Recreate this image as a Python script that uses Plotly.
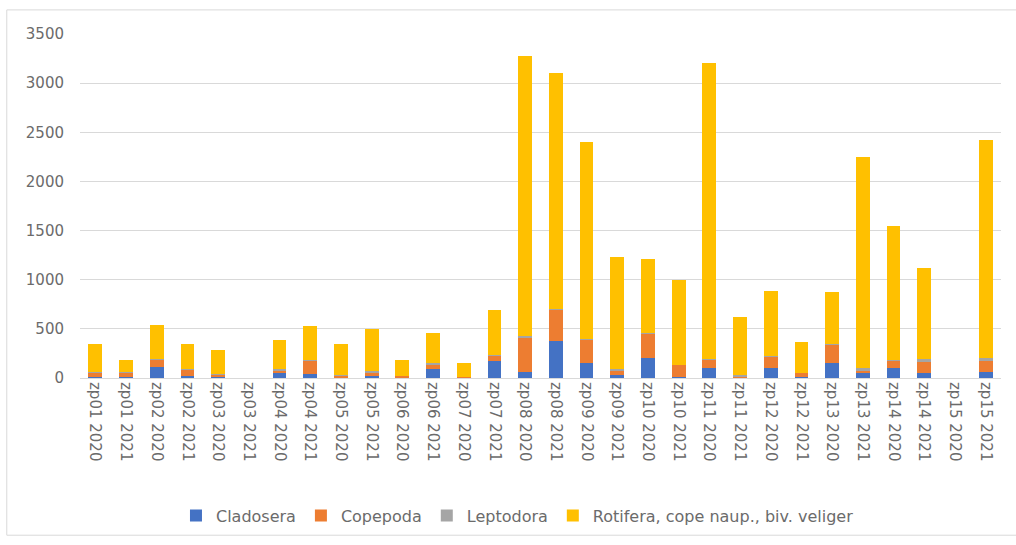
import plotly.graph_objects as go

categories = [
    "zp01 2020", "zp01 2021", "zp02 2020", "zp02 2021", "zp03 2020", "zp03 2021",
    "zp04 2020", "zp04 2021", "zp05 2020", "zp05 2021", "zp06 2020", "zp06 2021",
    "zp07 2020", "zp07 2021", "zp08 2020", "zp08 2021", "zp09 2020", "zp09 2021",
    "zp10 2020", "zp10 2021", "zp11 2020", "zp11 2021", "zp12 2020", "zp12 2021",
    "zp13 2020", "zp13 2021", "zp14 2020", "zp14 2021", "zp15 2020", "zp15 2021",
]

cladocera = [15, 10, 110, 20, 10, 0, 50, 40, 10, 20, 5, 90,
             5, 170, 60, 380, 150, 30, 200, 10, 100, 10, 100, 10,
             150, 50, 100, 50, 0, 60]
copepoda = [45, 50, 80, 70, 30, 0, 30, 140, 20, 40, 20, 50,
            10, 60, 350, 320, 240, 50, 250, 120, 90, 10, 120, 40,
            190, 30, 80, 120, 0, 120]
leptodora = [5, 5, 5, 5, 5, 0, 10, 5, 5, 10, 0, 10,
             0, 5, 20, 5, 5, 10, 5, 0, 5, 10, 5, 0,
             5, 20, 5, 20, 0, 20]
rotifera = [285, 115, 340, 250, 235, 0, 300, 345, 315, 430, 155, 310,
            135, 455, 2850, 2395, 2005, 1140, 755, 870, 3005, 590, 665, 320,
            535, 2150, 1365, 930, 0, 2220]

series = [
    ("Cladosera", cladocera, "#4472C4"),
    ("Copepoda", copepoda, "#ED7D31"),
    ("Leptodora", leptodora, "#A5A5A5"),
    ("Rotifera, cope naup., biv. veliger", rotifera, "#FFC000"),
]

fig = go.Figure()
for name, vals, color in series:
    fig.add_trace(go.Bar(x=categories, y=vals, name=name,
                         marker=dict(color=color, line=dict(width=0))))

font_family = "DejaVu Sans, Verdana, sans-serif"
text_color = "#6b6b6b"
fig.update_layout(
    barmode="stack",
    bargap=0.55,
    width=1016, height=545,
    margin=dict(l=80, r=15, t=34, b=165),
    paper_bgcolor="white",
    plot_bgcolor="white",
    font=dict(family=font_family, color=text_color, size=15),
    showlegend=True,
    legend=dict(orientation="h", x=0.475, xanchor="center", y=-0.40, yanchor="middle",
                font=dict(size=16, color=text_color), itemwidth=30,
                traceorder="normal"),
    xaxis=dict(tickangle=90, tickfont=dict(size=15, color=text_color),
               showline=True, linecolor="#D9D9D9", linewidth=1, ticks=""),
    yaxis=dict(range=[0, 3500], dtick=500, showgrid=True, gridcolor="#D9D9D9",
               gridwidth=1, zeroline=False, showline=False,
               tickfont=dict(size=15, color=text_color), ticks="outside",
               ticklen=12, tickcolor="white"),
    shapes=[dict(type="rect", xref="paper", yref="paper",
                 x0=-0.0795, x1=1.05, y0=-0.457, y1=1.07,
                 line=dict(color="#D9D9D9", width=1), layer="below")],
)

fig.write_html("out.html")
